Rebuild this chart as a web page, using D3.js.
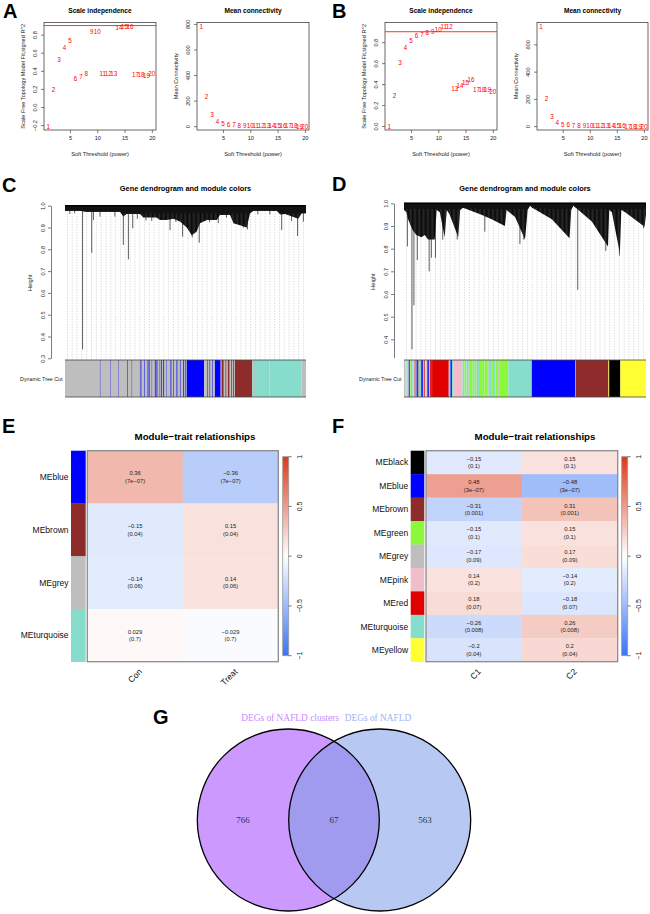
<!DOCTYPE html>
<html><head><meta charset="utf-8">
<script src="https://cdn.jsdelivr.net/npm/d3@7"></script>
<style>
body{margin:0;background:#fff}
svg{display:block}
</style></head>
<body><svg id="c" width="650" height="914" font-family='"Liberation Sans",Arial,Helvetica,sans-serif'></svg>
<script>
// ---------------- DATA ----------------
const powers = [1,2,3,4,5,6,7,8,9,10,11,12,13,14,15,16,17,18,19,20];
const fitA  = [-0.21,0.19,0.53,0.66,0.73,0.32,0.34,0.37,0.83,0.83,0.37,0.37,0.37,0.875,0.89,0.89,0.36,0.36,0.35,0.37];
const connA = [780,230,92,38,23,14,10,7,5,4,3.5,3,2.6,2.3,2,1.8,1.6,1.5,1.4,1.3];
const fitB  = [0.00,0.29,0.61,0.75,0.82,0.86,0.875,0.895,0.905,0.92,0.95,0.95,0.36,0.39,0.42,0.44,0.35,0.35,0.35,0.33];
const connB = [731,206,74,29,15,9,6,4,3,2.5,2,1.8,1.6,1.4,1.3,1.2,1.1,1,1,1];
const powerTicks = [5,10,15,20];
const fitTicksA = [-0.2,0,0.2,0.4,0.6,0.8];
const fitTicksB = [0,0.2,0.4,0.6,0.8];
const connTicksA = [0,200,400,600,800];
const connTicksB = [0,200,400,600];
const cutR2 = 0.9;

// dendrogram C : lower envelope of dense merge mass [leafPos(0-1000), height]
const envC = [[0,0.977],[62,0.977],[90,0.972],[228,0.972],[242,0.95],[256,0.962],[311,0.962],[325,0.946],[380,0.946],[394,0.934],[422,0.934],[450,0.94],[477,0.927],[505,0.90],[526,0.865],[546,0.88],[560,0.92],[589,0.934],[630,0.934],[643,0.957],[685,0.957],[699,0.92],[726,0.91],[754,0.90],[768,0.965],[781,0.977],[879,0.977],[893,0.96],[913,0.962],[968,0.94],[982,0.965],[1000,0.965]];
const spikesC = [[20,0.962],[40,0.965],[73,0.341],[111,0.784],[118,0.934],[145,0.95],[207,0.95],[242,0.82],[263,0.754],[281,0.896],[300,0.94],[336,0.932],[360,0.93],[436,0.888],[460,0.925],[488,0.858],[528,0.855],[557,0.83],[600,0.925],[636,0.92],[670,0.945],[740,0.9],[757,0.891],[800,0.96],[850,0.96],[899,0.888],[940,0.93],[965,0.861],[989,0.927]];
const heightTicksC = [0.3,0.4,0.5,0.6,0.7,0.8,0.9,1.0];

// dendrogram D
const envD = [[0,0.97],[10,0.96],[17,0.93],[28,0.90],[37,0.88],[51,0.86],[72,0.85],[86,0.86],[99,0.84],[127,0.84],[135,0.97],[148,0.96],[168,0.85],[177,0.97],[189,0.95],[224,0.85],[232,0.97],[244,0.98],[320,0.95],[362,0.93],[417,0.90],[424,0.97],[459,0.94],[500,0.84],[511,0.97],[521,0.99],[530,0.98],[611,0.93],[684,0.846],[691,0.97],[700,0.99],[710,0.98],[776,0.92],[843,0.81],[848,0.97],[859,0.96],[892,0.78],[898,0.97],[914,0.96],[994,0.897],[1000,0.95]];
const spikesD = [[14,0.81],[33,0.356],[41,0.55],[55,0.75],[104,0.70],[113,0.76],[130,0.76],[160,0.84],[220,0.84],[334,0.875],[479,0.82],[495,0.84],[718,0.618],[834,0.79],[890,0.77],[990,0.89]];
const heightTicksD = [0.4,0.5,0.6,0.7,0.8,0.9,1.0];

// module colour bars [start, end, module]
const barC = [[0,145,'grey'],[145,505,'grey'],[505,577,'blue'],[577,622,'grey'],[622,646,'blue'],[646,705,'grey'],[705,777,'brown'],[777,848,'turquoise'],[848,982,'turquoise'],[982,1000,'grey'],
 [145,146,'blue'],[187,188,'blue'],[221,222,'blue'],[259,261,'blue'],[277,278,'blue'],[311,313,'blue'],[318,319,'blue'],[328,330,'blue'],[343,346,'blue'],[349,351,'blue'],[360,361,'blue'],[373,376,'blue'],[380,383,'blue'],[390,391,'blue'],[398,401,'blue'],[408,411,'blue'],[420,421,'blue'],[438,441,'blue'],[450,452,'blue'],[463,466,'blue'],[477,479,'blue'],[491,494,'blue'],[500,502,'blue'],[590,592,'blue'],[600,602,'blue'],[610,612,'blue'],
 [650,658,'brown'],[666,669,'brown'],[676,682,'brown'],[690,693,'brown'],[698,701,'brown'],[781,787,'grey'],[800,802,'grey'],[838,843,'grey']];
const barD = [[0,6,'grey'],[6,10,'pink'],[10,14,'turquoise'],[14,20,'grey'],[20,24,'blue'],[24,28,'green'],[28,34,'grey'],[34,38,'turquoise'],[38,44,'pink'],[44,48,'brown'],[48,52,'grey'],[52,56,'blue'],[56,60,'black'],[60,66,'grey'],[66,70,'turquoise'],[70,74,'brown'],[74,78,'blue'],[78,84,'grey'],[84,88,'red'],[88,92,'yellow'],[92,96,'grey'],[96,100,'brown'],[100,104,'blue'],[104,108,'grey'],[108,112,'red'],[112,116,'brown'],
 [116,185,'red'],[185,192,'turquoise'],[192,198,'blue'],[198,203,'turquoise'],[203,242,'pink'],
 [242,250,'turquoise'],[250,258,'green'],[258,266,'turquoise'],[266,272,'grey'],[272,284,'green'],[284,292,'turquoise'],[292,300,'green'],[300,306,'grey'],[306,314,'turquoise'],[314,326,'green'],[326,332,'turquoise'],[332,344,'green'],[344,350,'grey'],[350,360,'turquoise'],[360,372,'green'],[372,378,'turquoise'],[378,388,'green'],[388,392,'grey'],[392,396,'green'],
 [396,431,'green'],[431,528,'turquoise'],[528,707,'blue'],[707,709,'yellow'],[709,845,'brown'],[845,848,'yellow'],[848,894,'black'],[894,1000,'yellow']];

// module-trait heatmaps
const modulesE = ['MEblue','MEbrown','MEgrey','MEturquoise'];
const traitsE = ['Con','Treat'];
const corE = [[0.36,-0.36],[-0.15,0.15],[-0.14,0.14],[0.029,-0.029]];
const pE = [['7e−07','7e−07'],['0.04','0.04'],['0.06','0.06'],['0.7','0.7']];
const modulesF = ['MEblack','MEblue','MEbrown','MEgreen','MEgrey','MEpink','MEred','MEturquoise','MEyellow'];
const traitsF = ['C1','C2'];
const corF = [[-0.15,0.15],[0.48,-0.48],[-0.31,0.31],[-0.15,0.15],[-0.17,0.17],[0.14,-0.14],[0.18,-0.18],[-0.26,0.26],[-0.2,0.2]];
const pF = [['0.1','0.1'],['3e−07','3e−07'],['0.001','0.001'],['0.1','0.1'],['0.09','0.09'],['0.2','0.2'],['0.07','0.07'],['0.008','0.008'],['0.04','0.04']];
const legendTicks = [-1,-0.5,0,0.5,1];

// Venn
const vennSets = ['DEGs of NAFLD clusters','DEGs of NAFLD'];
const vennCounts = [766,67,563];

// ---------------- STYLE ----------------
const moduleColor = {grey:'#BEBEBE',blue:'#0000FF',brown:'#8E2C2C',turquoise:'#86DDCC',green:'#8CF83C',pink:'#F2BDCA',red:'#E00000',black:'#000000',yellow:'#FFFF33'};
const svg = d3.select('#c');
const SANS = '"Liberation Sans",Arial,Helvetica,sans-serif';
const SERIF = '"Liberation Serif","Times New Roman",serif';
const fmtMinus = s => String(s).replace('-', '−');
const defs = svg.append('defs');
const pat = defs.append('pattern').attr('id','hair').attr('width',1.3).attr('height',4).attr('patternUnits','userSpaceOnUse');
pat.append('rect').attr('width',1.3).attr('height',4).attr('fill','#3a3a3a');
pat.append('rect').attr('width',0.9).attr('height',4).attr('fill','#0a0a0a');

function pad(e){const d=e[1]-e[0];return [e[0]-0.04*d,e[1]+0.04*d];}

function panelLetter(t,x,y){
  svg.append('text').attr('x',x).attr('y',y).text(t).attr('font-size',20).attr('font-weight','bold').attr('fill','#000');
}

function softPlot(box, xs, ys, o){
  const g = svg.append('g');
  const x = d3.scaleLinear().domain(pad(d3.extent(xs))).range([box.x0,box.x1]);
  const y = d3.scaleLinear().domain(pad(d3.extent(ys))).range([box.y1,box.y0]);
  const ax = g.append('g').attr('transform',`translate(0,${box.y1})`)
    .call(d3.axisBottom(x).tickValues(o.xticks).tickSize(3).tickSizeOuter(0).tickPadding(3));
  ax.select('.domain').remove();
  ax.selectAll('text').attr('font-size',5.6).attr('font-family',SANS).attr('fill','#222');
  ax.selectAll('line').attr('stroke','#444').attr('stroke-width',0.7);
  const ay = g.append('g').attr('transform',`translate(${box.x0},0)`)
    .call(d3.axisLeft(y).tickValues(o.yticks).tickSize(3).tickSizeOuter(0).tickFormat(o.fmt));
  ay.select('.domain').remove();
  ay.selectAll('line').attr('stroke','#444').attr('stroke-width',0.7);
  ay.selectAll('text').attr('x',0).attr('dy',null).attr('transform','translate(-9,0) rotate(-90)')
    .attr('text-anchor','middle').attr('dominant-baseline','central')
    .attr('font-size',5.6).attr('font-family',SANS).attr('fill','#222');
  g.append('rect').attr('x',box.x0).attr('y',box.y0).attr('width',box.x1-box.x0).attr('height',box.y1-box.y0)
    .attr('fill','none').attr('stroke','#444').attr('stroke-width',0.8);
  if(o.hline!==undefined){
    g.append('line').attr('x1',box.x0).attr('x2',box.x1).attr('y1',y(o.hline)).attr('y2',y(o.hline))
      .attr('stroke','#F00').attr('stroke-width',0.8);
  }
  g.selectAll('text.pt').data(xs).join('text').attr('class','pt')
    .attr('x',d=>x(d)).attr('y',(d,i)=>y(ys[i])).text(d=>d)
    .attr('text-anchor','middle').attr('dominant-baseline','central')
    .attr('font-size',6.3).attr('fill','#F00');
  const cx=(box.x0+box.x1)/2;
  g.append('text').attr('x',cx).attr('y',12.5).text(o.title).attr('text-anchor','middle')
    .attr('font-size',6.6).attr('font-weight','bold');
  g.append('text').attr('x',cx).attr('y',156).text('Soft Threshold (power)').attr('text-anchor','middle')
    .attr('font-size',5.7).attr('fill','#222');
  g.append('text').attr('transform',`translate(${box.x0-21},${(box.y0+box.y1)/2}) rotate(-90)`)
    .text(o.ylab).attr('text-anchor','middle').attr('dominant-baseline','central')
    .attr('font-size',5.6).attr('fill','#222');
}

const yBox0 = 22.5, yBox1 = 130;
softPlot({x0:44,x1:156,y0:yBox0,y1:yBox1}, powers, fitA, {xticks:powerTicks,yticks:fitTicksA,fmt:d3.format('.1f'),hline:cutR2,title:'Scale independence',ylab:'Scale Free Topology Model Fit,signed R^2'});
softPlot({x0:197,x1:309,y0:yBox0,y1:yBox1}, powers, connA, {xticks:powerTicks,yticks:connTicksA,fmt:d3.format('d'),title:'Mean connectivity',ylab:'Mean Connectivity'});
softPlot({x0:385,x1:497,y0:yBox0,y1:yBox1}, powers, fitB, {xticks:powerTicks,yticks:fitTicksB,fmt:d3.format('.1f'),hline:cutR2,title:'Scale independence',ylab:'Scale Free Topology Model Fit,signed R^2'});
softPlot({x0:537,x1:648,y0:yBox0,y1:yBox1}, powers, connB, {xticks:powerTicks,yticks:connTicksB,fmt:d3.format('d'),title:'Mean connectivity',ylab:'Mean Connectivity'});

function dendro(o){
  const g = svg.append('g');
  const x = d3.scaleLinear().domain([0,1000]).range([o.x0,o.x1]);
  const y = d3.scaleLinear().domain(o.yDomain).range(o.yRange);
  const guideCount = 50;
  const guides = d3.range(guideCount).map(i=>(i+0.5)*1000/guideCount);
  g.selectAll('line.guide').data(guides).join('line')
    .attr('x1',d=>x(d)).attr('x2',d=>x(d)).attr('y1',y(0.99)).attr('y2',o.barY0)
    .attr('stroke','#c8c8c8').attr('stroke-width',0.6).attr('stroke-dasharray','1.5,1.2');
  g.selectAll('line.spike').data(o.spikes).join('line')
    .attr('x1',d=>x(d[0])).attr('x2',d=>x(d[0])).attr('y1',y(0.99)).attr('y2',d=>y(d[1]))
    .attr('stroke','#333').attr('stroke-width',0.8);
  const area = d3.area().x(d=>x(d[0])).y0(y(1.0)-0.6).y1(d=>y(d[1]));
  g.append('path').datum(o.env).attr('d',area).attr('fill','url(#hair)');
  const areaTop = d3.area().x(d=>x(d[0])).y0(y(1.0)-0.6).y1(d=>y(Math.max(d[1],o.solidTo)));
  g.append('path').datum(o.env).attr('d',areaTop).attr('fill','#111');
  g.append('line').attr('x1',x(0)).attr('x2',x(1000)).attr('y1',y(1.0)).attr('y2',y(1.0)).attr('stroke','#000').attr('stroke-width',1.2);
  // axis
  const ay = g.append('g').attr('transform',`translate(${o.axisX},0)`)
    .call(d3.axisLeft(y).tickValues(o.ticks).tickSize(3).tickSizeOuter(0).tickFormat(d3.format('.1f')));
  ay.select('.domain').attr('stroke','#444').attr('stroke-width',0.7);
  ay.selectAll('line').attr('stroke','#444').attr('stroke-width',0.7);
  ay.selectAll('text').attr('x',0).attr('dy',null).attr('transform','translate(-8,0) rotate(-90)')
    .attr('text-anchor','middle').attr('dominant-baseline','central')
    .attr('font-size',5.6).attr('font-family',SANS).attr('fill','#222');
  g.append('text').attr('transform',`translate(${o.axisX-21},${(y(1.0)+o.barY0)/2}) rotate(-90)`)
    .text('Height').attr('text-anchor','middle').attr('dominant-baseline','central').attr('font-size',5.8).attr('fill','#222');
  // colour bar
  g.selectAll('rect.seg').data(o.bar).join('rect')
    .attr('x',d=>x(d[0])).attr('width',d=>Math.max(0.3,x(d[1])-x(d[0])))
    .attr('y',o.barY0).attr('height',o.barY1-o.barY0).attr('fill',d=>moduleColor[d[2]]);
  g.append('line').attr('x1',x(0)).attr('x2',x(1000)).attr('y1',o.barY0).attr('y2',o.barY0).attr('stroke','#444').attr('stroke-width',0.8);
  g.append('line').attr('x1',x(0)).attr('x2',x(1000)).attr('y1',o.barY1).attr('y2',o.barY1).attr('stroke','#444').attr('stroke-width',0.8);
  g.append('text').attr('x',x(0)-2.5).attr('y',(o.barY0+o.barY1)/2).text('Dynamic Tree Cut')
    .attr('text-anchor','end').attr('dominant-baseline','central').attr('font-size',5.3).attr('fill','#222');
  g.append('text').attr('x',(o.x0+o.x1)/2).attr('y',190.5).text('Gene dendrogram and module colors')
    .attr('text-anchor','middle').attr('font-size',7.4).attr('font-weight','bold');
}
dendro({x0:65,x1:306,yDomain:[0.3,1.0],yRange:[358.3,205.7],ticks:heightTicksC,env:envC,spikes:spikesC,bar:barC,barY0:360,barY1:397,axisX:51,solidTo:0.965});
dendro({x0:404,x1:646,yDomain:[0.32,1.0],yRange:[357.5,203.3],ticks:heightTicksD,env:envD,spikes:spikesD,bar:barD,barY0:360,barY1:397,axisX:394,solidTo:0.975});

// heatmaps
const corColor = d3.scaleLinear().domain([-1,0,1]).range(['#3A74F2','#FFFFFF','#D93A1C']);
const grad = defs.append('linearGradient').attr('id','lg').attr('x1',0).attr('y1',1).attr('x2',0).attr('y2',0);
legendTicks.forEach(t=>grad.append('stop').attr('offset',(t+1)/2).attr('stop-color',corColor(t)));

function heatmap(o){
  const g = svg.append('g');
  const y = d3.scaleBand().domain(o.modules).range([o.top,o.bottom]);
  const x = d3.scaleBand().domain(o.traits).range([o.hx0,o.hx1]);
  o.modules.forEach((m,i)=>{
    g.append('rect').attr('x',o.cx0).attr('width',o.cx1-o.cx0).attr('y',y(m)).attr('height',y.bandwidth()+0.3)
      .attr('fill',moduleColor[m.slice(2)]);
    g.append('text').attr('x',o.cx0-2.5).attr('y',y(m)+y.bandwidth()/2).text(m)
      .attr('text-anchor','end').attr('dominant-baseline','central').attr('font-size',8.5).attr('fill','#111');
    o.traits.forEach((t,j)=>{
      g.append('rect').attr('x',x(t)).attr('width',x.bandwidth()+0.3).attr('y',y(m)).attr('height',y.bandwidth()+0.3)
        .attr('fill',corColor(o.cor[i][j]));
      const cy = y(m)+y.bandwidth()/2, cxm = x(t)+x.bandwidth()/2;
      g.append('text').attr('x',cxm).attr('y',cy-3.8).text(fmtMinus(o.cor[i][j]))
        .attr('text-anchor','middle').attr('dominant-baseline','central').attr('font-size',5.8).attr('fill','#222');
      g.append('text').attr('x',cxm).attr('y',cy+3.8).text('('+o.p[i][j]+')')
        .attr('text-anchor','middle').attr('dominant-baseline','central').attr('font-size',5.8).attr('fill','#222');
    });
  });
  g.append('rect').attr('x',o.hx0).attr('y',o.top).attr('width',o.hx1-o.hx0).attr('height',o.bottom-o.top)
    .attr('fill','none').attr('stroke','#8c8c8c').attr('stroke-width',1.3);
  o.traits.forEach(t=>{
    const cxm = x(t)+x.bandwidth()/2;
    g.append('text').attr('transform',`translate(${cxm+3},${o.bottom+6}) rotate(-45)`).text(t)
      .attr('text-anchor','end').attr('dominant-baseline','hanging').attr('font-size',8.5).attr('fill','#111');
  });
  // legend
  const ly = d3.scaleLinear().domain([-1,1]).range([o.legBottom,o.legTop]);
  g.append('rect').attr('x',o.lx0).attr('width',o.lx1-o.lx0).attr('y',o.legTop).attr('height',o.legBottom-o.legTop)
    .attr('fill','url(#lg)').attr('stroke','#999').attr('stroke-width',0.8);
  legendTicks.forEach(t=>{
    g.append('line').attr('x1',o.lx1).attr('x2',o.lx1+3).attr('y1',ly(t)).attr('y2',ly(t)).attr('stroke','#444').attr('stroke-width',0.7);
    g.append('text').attr('transform',`translate(${o.lx1+11},${ly(t)}) rotate(-90)`).text(fmtMinus(t))
      .attr('text-anchor','middle').attr('dominant-baseline','central').attr('font-size',7).attr('fill','#222');
  });
  g.append('text').attr('x',o.titleX).attr('y',439.5).text('Module−trait relationships')
    .attr('text-anchor','middle').attr('font-size',9.7).attr('font-weight','bold');
}
heatmap({modules:modulesE,traits:traitsE,cor:corE,p:pE,cx0:71,cx1:85.7,hx0:87.3,hx1:278.3,top:450.7,bottom:661.7,lx0:282.7,lx1:288.7,legTop:456.7,legBottom:655.7,titleX:195});
heatmap({modules:modulesF,traits:traitsF,cor:corF,p:pF,cx0:410.7,cx1:424.3,hx0:426,hx1:617.7,top:450.7,bottom:661.7,lx0:621.7,lx1:627.7,legTop:456.7,legBottom:655.7,titleX:535});

// Venn
(function(){
  const g = svg.append('g');
  const cy=820, r=91, c1=288.3, c2=379.7;
  defs.append('clipPath').attr('id','clipL').append('circle').attr('cx',c1).attr('cy',cy).attr('r',r);
  g.append('circle').attr('cx',c1).attr('cy',cy).attr('r',r).attr('fill','#CC99FF');
  g.append('circle').attr('cx',c2).attr('cy',cy).attr('r',r).attr('fill','#B7C8F3');
  g.append('circle').attr('cx',c2).attr('cy',cy).attr('r',r).attr('fill','#A09BEE').attr('clip-path','url(#clipL)');
  g.append('circle').attr('cx',c1).attr('cy',cy).attr('r',r).attr('fill','none').attr('stroke','#000').attr('stroke-width',1.3);
  g.append('circle').attr('cx',c2).attr('cy',cy).attr('r',r).attr('fill','none').attr('stroke','#000').attr('stroke-width',1.3);
  const pos=[(c1-r+c2-r)/2, (c1+c2)/2, (c1+r+c2+r)/2];
  vennCounts.forEach((v,i)=>g.append('text').attr('x',pos[i]).attr('y',cy).text(v)
    .attr('text-anchor','middle').attr('dominant-baseline','central').style('font-family',SERIF).attr('font-size',9).attr('fill','#333'));
  g.append('text').attr('x',290).attr('y',718).text(vennSets[0]).attr('text-anchor','middle').attr('dominant-baseline','central')
    .style('font-family',SERIF).attr('font-size',9.4).attr('fill','#C98BFF');
  g.append('text').attr('x',378).attr('y',718).text(vennSets[1]).attr('text-anchor','middle').attr('dominant-baseline','central')
    .style('font-family',SERIF).attr('font-size',9.4).attr('fill','#9FB4F2');
})();

panelLetter('A',3,18);
panelLetter('B',332,18);
panelLetter('C',2,192);
panelLetter('D',332,191);
panelLetter('E',2,433);
panelLetter('F',332,433);
panelLetter('G',153,724);
</script></body></html>
